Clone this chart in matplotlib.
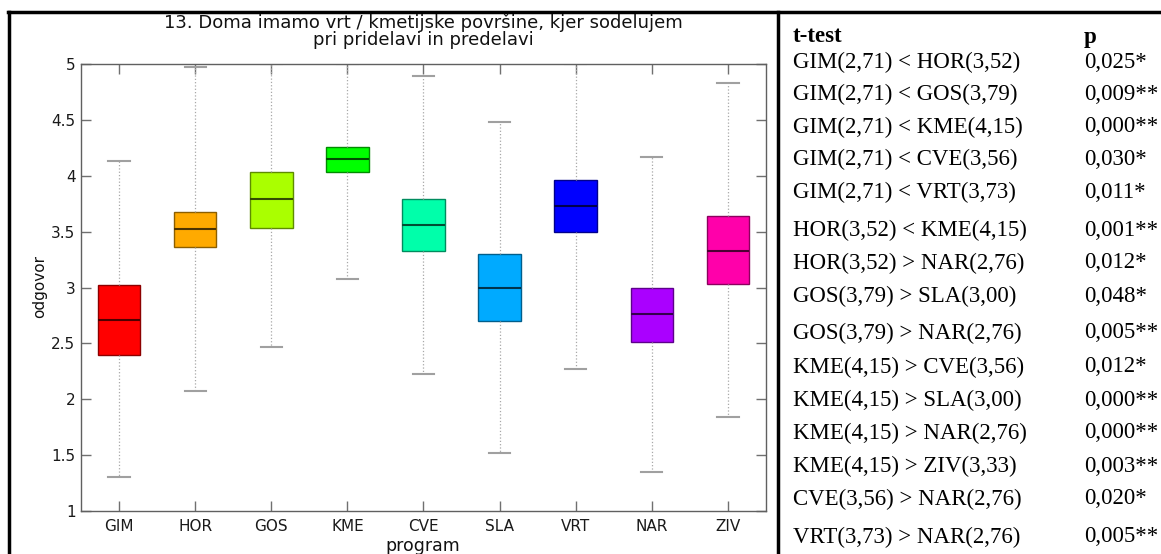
import matplotlib
matplotlib.use("Agg")
import matplotlib.pyplot as plt
from matplotlib.lines import Line2D

# box statistics per study programme
programs = ["GIM", "HOR", "GOS", "KME", "CVE", "SLA", "VRT", "NAR", "ZIV"]
medians = [2.71, 3.52, 3.79, 4.15, 3.56, 3.00, 3.73, 2.76, 3.33]
q1 = [2.40, 3.36, 3.53, 4.03, 3.33, 2.70, 3.50, 2.51, 3.03]
q3 = [3.02, 3.68, 4.03, 4.26, 3.79, 3.30, 3.96, 3.00, 3.64]
whisk_lo = [1.30, 2.07, 2.47, 3.08, 2.23, 1.52, 2.27, 1.35, 1.84]
whisk_hi = [4.13, 4.97, 5.00, 5.00, 4.89, 4.48, 5.00, 4.17, 4.83]

# t-test table
tests = [
    "GIM(2,71) < HOR(3,52)", "GIM(2,71) < GOS(3,79)", "GIM(2,71) < KME(4,15)",
    "GIM(2,71) < CVE(3,56)", "GIM(2,71) < VRT(3,73)", "HOR(3,52) < KME(4,15)",
    "HOR(3,52) > NAR(2,76)", "GOS(3,79) > SLA(3,00)", "GOS(3,79) > NAR(2,76)",
    "KME(4,15) > CVE(3,56)", "KME(4,15) > SLA(3,00)", "KME(4,15) > NAR(2,76)",
    "KME(4,15) > ZIV(3,33)", "CVE(3,56) > NAR(2,76)", "VRT(3,73) > NAR(2,76)",
]
p_values = [
    "0,025*", "0,009**", "0,000**", "0,030*", "0,011*", "0,001**", "0,012*",
    "0,048*", "0,005**", "0,012*", "0,000**", "0,000**", "0,003**", "0,020*",
    "0,005**",
]

colors = ["#ff0000", "#ffaa00", "#aaff00", "#00ff00", "#00ffaa",
          "#00aaff", "#0000ff", "#aa00ff", "#ff00aa"]

W, H = 1161, 554
fig = plt.figure(figsize=(W / 100, H / 100), dpi=100)
fig.patch.set_facecolor("white")


def fx(px):
    return px / W


def fy(py):
    return 1 - py / H


ax = fig.add_axes([fx(81), fy(511), fx(766) - fx(81), fy(64) - fy(511)])

stats = []
for i, name in enumerate(programs):
    stats.append(dict(label=name, med=medians[i], q1=q1[i], q3=q3[i],
                      whislo=whisk_lo[i], whishi=whisk_hi[i], fliers=[]))

bp = ax.bxp(stats, positions=range(1, len(programs) + 1), widths=0.56,
            patch_artist=True, showfliers=False, capwidths=0.28,
            whiskerprops=dict(color="#a8a8a8", linestyle=":", linewidth=0.9),
            capprops=dict(color="#a0a0a0", linewidth=1.5))


def darker(hexcol, f):
    r, g, b = matplotlib.colors.to_rgb(hexcol)
    return (r * f, g * f, b * f)


for box, med, c in zip(bp["boxes"], bp["medians"], colors):
    box.set_facecolor(c)
    box.set_edgecolor(darker(c, 0.55))
    box.set_linewidth(1.0)
    med.set_color(darker(c, 0.3))
    med.set_linewidth(1.5)

ax.set_xlim(0.5, 9.5)
ax.set_ylim(1, 5)
ax.set_yticks([1, 1.5, 2, 2.5, 3, 3.5, 4, 4.5, 5])
ax.set_yticklabels(["1", "1.5", "2", "2.5", "3", "3.5", "4", "4.5", "5"])

for sp in ax.spines.values():
    sp.set_color("#606060")
    sp.set_linewidth(1.0)
ax.tick_params(direction="in", length=7, width=1, color="#707070",
               top=True, right=True, labelsize=11, labelcolor="#1a1a1a")
ax.tick_params(axis="x", pad=6)
ax.tick_params(axis="y", pad=4)
for lab in ax.get_xticklabels() + ax.get_yticklabels():
    lab.set_family("DejaVu Sans")

fig.text(fx(423), fy(31), "13. Doma imamo vrt / kmetijske površine, kjer sodelujem\n"
         "pri pridelavi in predelavi", fontsize=13, family="DejaVu Sans",
         ha="center", va="center", multialignment="center", linespacing=0.92,
         color="#111111")
fig.text(fx(423), fy(546), "program", fontsize=12.5, family="DejaVu Sans",
         ha="center", va="center", color="#111111")
fig.text(fx(40), fy(287), "odgovor", fontsize=11, family="DejaVu Sans",
         ha="center", va="center", rotation=90, color="#111111")

# table frame
frame = dict(color="black", linewidth=2.5, transform=fig.transFigure)
fig.add_artist(Line2D([fx(8), fx(W)], [fy(12), fy(12)], **frame))
fig.add_artist(Line2D([fx(9), fx(9)], [fy(12), fy(H)], **frame))
fig.add_artist(Line2D([fx(778), fx(778)], [fy(12), fy(H)], **frame))

# t-test column
fig.text(fx(793), fy(37), "t-test", fontsize=16.5, fontweight="bold",
         family="Liberation Serif", va="center", ha="left")
fig.text(fx(1084), fy(37), "p", fontsize=16.5, fontweight="bold",
         family="Liberation Serif", va="center", ha="left")
row_y = [62, 94, 127, 159, 192, 230, 263, 296, 333, 367, 400, 433, 466, 499, 537]
for t, p, y in zip(tests, p_values, row_y):
    fig.text(fx(793), fy(y), t, fontsize=16.5, family="Liberation Serif",
             va="center", ha="left")
    fig.text(fx(1084), fy(y), p, fontsize=16.5, family="Liberation Serif",
             va="center", ha="left")

fig.savefig("out.png", dpi=100)
